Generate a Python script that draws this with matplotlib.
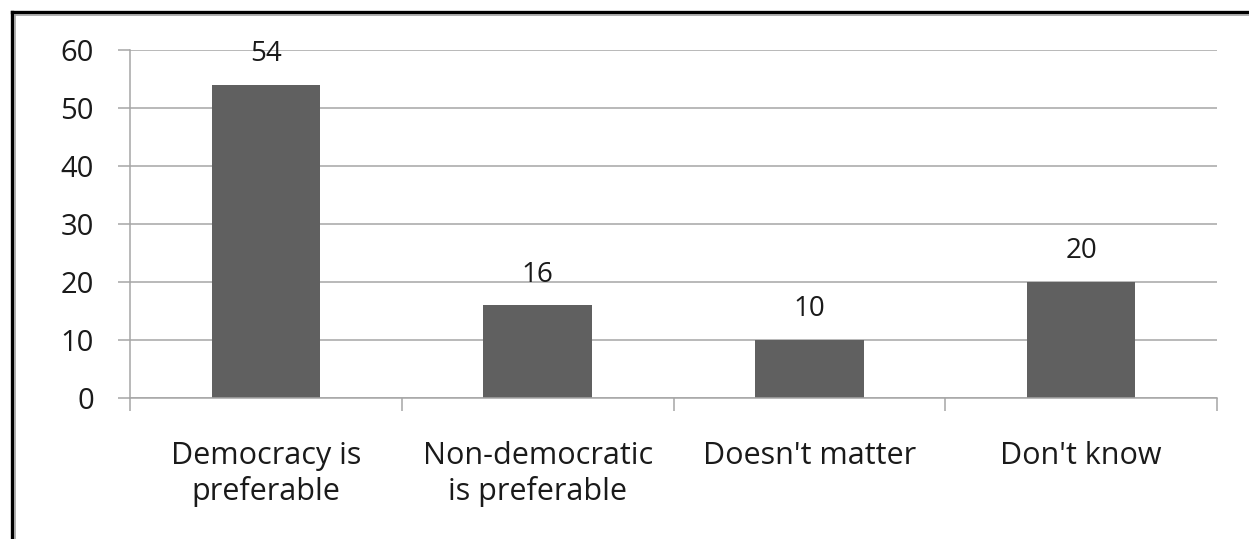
import matplotlib.pyplot as plt
from matplotlib.lines import Line2D

# dane z wykresu
categories = ['Democracy is\npreferable', 'Non-democratic\nis preferable', "Doesn't matter", "Don't know"]
values = [54, 16, 10, 20]
y_ticks = [0, 10, 20, 30, 40, 50, 60]

plt.rcParams['font.family'] = ['Open Sans', 'DejaVu Sans']
grey = '#a6a6a6'

fig = plt.figure(figsize=(12.49, 5.39), dpi=100)
ax = fig.add_axes([130 / 1249, 1 - 398 / 539, (1217 - 130) / 1249, (398 - 50) / 539])

x = list(range(len(categories)))
bars = ax.bar(x, values, width=0.4, color='#606060', zorder=2)
for b, v in zip(bars, values):
    ax.annotate(str(v), (b.get_x() + b.get_width() / 2, v), xytext=(0, 17),
                textcoords='offset points', ha='center', va='baseline',
                fontsize=20, color='#1a1a1a', zorder=3)

ax.set_xlim(-0.5, len(categories) - 0.5)
ax.set_ylim(0, 60)
ax.set_yticks(y_ticks)
ax.yaxis.grid(True, color=grey, linewidth=1.1, zorder=1)
ax.set_axisbelow(True)

# etykiety kategorii w środku, kreski na granicach
ax.set_xticks(x)
ax.set_xticklabels(categories, fontsize=22, color='#1a1a1a', linespacing=1.2)
ax.set_xticks([i - 0.5 for i in range(len(categories) + 1)], minor=True)
ax.tick_params(axis='x', which='major', length=0, pad=31)
ax.tick_params(axis='x', which='minor', length=9, width=1.1, color=grey)
ax.tick_params(axis='y', length=9, width=1.1, color=grey, pad=17, labelsize=21,
               labelcolor='#1a1a1a')

for side in ['top', 'right']:
    ax.spines[side].set_visible(False)
for side in ['left', 'bottom']:
    ax.spines[side].set_color(grey)
    ax.spines[side].set_linewidth(1.1)

# ramka obrazka
W, H = 1249, 539
fig.add_artist(Line2D([11.5 / W, 1], [1 - 11.5 / H] * 2, color='black', linewidth=2.4))
fig.add_artist(Line2D([11.5 / W] * 2, [0, 1 - 11.5 / H], color='black', linewidth=2.4))
fig.add_artist(Line2D([15 / W, 1], [1 - 15 / H] * 2, color='#999999', linewidth=1.1))
fig.add_artist(Line2D([15 / W] * 2, [0, 1 - 15 / H], color='#999999', linewidth=1.1))

fig.savefig('out.png', dpi=100)
